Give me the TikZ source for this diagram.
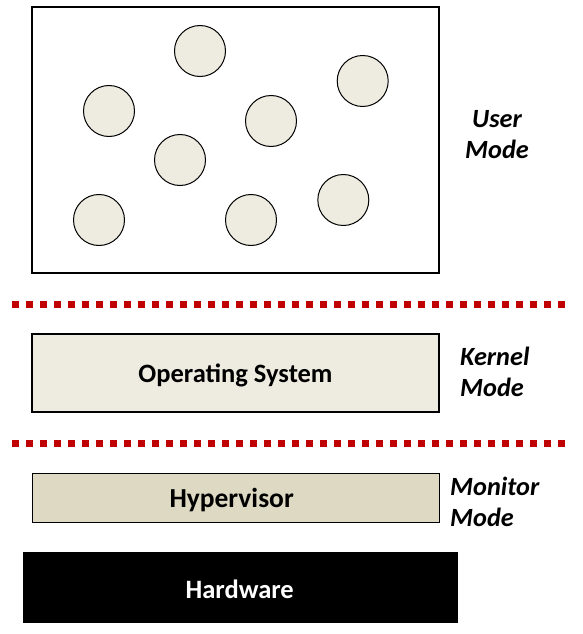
\documentclass[tikz,border=0pt]{standalone}
\usepackage{fontspec}
\setmainfont{Carlito}
\definecolor{bubblefill}{HTML}{EEECE1}
\definecolor{hyperfill}{HTML}{DDD9C3}
\definecolor{sepred}{HTML}{C00000}
\begin{document}
\begin{tikzpicture}[x=1pt, y=-1pt,
        bubble/.style={fill=bubblefill, draw=black, line width=1pt},
        layertext/.style={font=\fontsize{26.5}{31}\selectfont\bfseries, yshift=-2pt},
        modetext/.style={font=\fontsize{26.3}{31}\selectfont\bfseries\itshape, inner sep=0pt},
        sepline/.style={draw=sepred, line width=7pt, dash pattern=on 7pt off 7pt}]
        \useasboundingbox (0,0) rectangle (582,634);
        % user space with processes
        \draw[line width=1.6pt] (32,7) rectangle (439,273);
        \filldraw[bubble] (200,51) circle (25.5pt);
        \filldraw[bubble] (109,111) circle (25.5pt);
        \filldraw[bubble] (362.7,81) circle (25.5pt);
        \filldraw[bubble] (271,121) circle (25.5pt);
        \filldraw[bubble] (180,160) circle (25.5pt);
        \filldraw[bubble] (99,220) circle (25.5pt);
        \filldraw[bubble] (251,220) circle (25.5pt);
        \filldraw[bubble] (343.3,200) circle (25.5pt);
        \node[modetext, align=center] (usermode) at (497,134.5) {User\\Mode};
        \draw[sepline] (12.3,304.3) -- (565.3,304.3);
        % kernel
        \filldraw[fill=bubblefill, draw=black, line width=1.6pt] 
        (32,334) rectangle (439,412) node[pos=.5, layertext] (os) {Operating System};
        \node[modetext, align=left, anchor=west] (kernelmode) at (460,371.5) {Kernel\\Mode};
        \draw[sepline] (12.3,443.3) -- (565.3,443.3);
        % monitor
        \filldraw[fill=hyperfill, draw=black, line width=1pt] 
        (32.3,473.3) rectangle (439,522) node[pos=.5, layertext, font=\fontsize{27.5}{31}\selectfont\bfseries, xshift=-4pt] (hyp) {Hypervisor};
        \node[modetext, align=left, anchor=west] (monitormode) at (450,501.5) {Monitor\\Mode};
        \filldraw[fill=black, draw=black] 
        (22.7,552) rectangle (456.7,622) node[pos=.5, layertext, text=white] (hw) {Hardware};
    \end{tikzpicture}
\end{document}
